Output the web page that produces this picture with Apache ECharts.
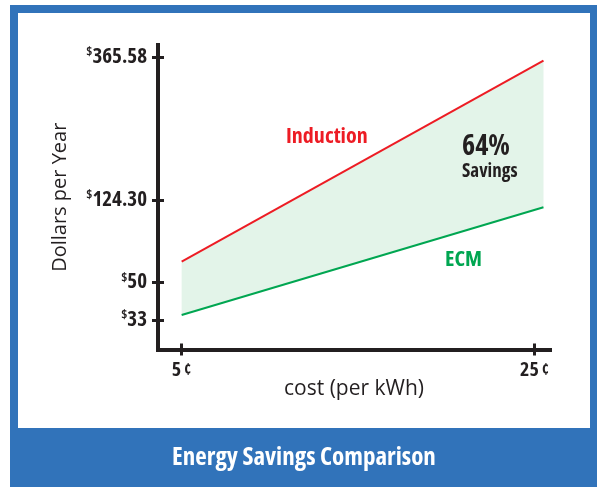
<!DOCTYPE html>
<html>
<head>
<meta charset="utf-8">
<script src="https://cdn.jsdelivr.net/npm/echarts@6/dist/echarts.min.js"></script>
<style>
html,body{margin:0;padding:0;background:#fff;}
#chart{width:597px;height:487px;}
</style>
</head>
<body>
<div id="chart"></div>
<script>
// ---- data ----
const costCents = [5, 25.5];
const inductionDollars = [68.7, 359.3];
const ecmDollars = [35.3, 117.7];
const xTickCents = [5, 25];
const yTickLabels = ['$33', '$50', '$124.30', '$365.58'];
const seriesNames = ['Induction', 'ECM'];
const savingsText = ['64%', 'Savings'];
const chartTitle = 'Energy Savings Comparison';
const xAxisTitle = 'cost (per kWh)';
const yAxisTitle = 'Dollars per Year';

// ---- the original's y axis is schematic (non-linear): piecewise scale stops ----
const yScaleDollars = [0, 33, 50, 124.30, 365.58];
const yScaleUnits = [0, 29.5, 67, 149.5, 292.5];
const yAxisMaxUnits = 304.5;

function toAxis(v) {
  const d = yScaleDollars, u = yScaleUnits;
  let i = 0;
  while (i < d.length - 2 && v > d[i + 1]) i++;
  return u[i] + (v - d[i]) * (u[i + 1] - u[i]) / (d[i + 1] - d[i]);
}

const yTickDollars = yTickLabels.map(s => parseFloat(s.replace('$', '')));
const yTickUnits = yTickDollars.map(toAxis);

const FAMILY = "'Open Sans', 'DejaVu Sans Condensed', sans-serif";
const STRETCH = 'condensed';
const INK = '#231f20';
const RED = '#ed1c24';
const GREEN = '#00a651';
const FILL = '#e3f4e9';
const BLUE = '#3173ba';

const indPts = costCents.map((c, i) => [c, toAxis(inductionDollars[i])]);
const ecmPts = costCents.map((c, i) => [c, toAxis(ecmDollars[i])]);
const bandRows = costCents.map((c, i) => [c, toAxis(ecmDollars[i]), toAxis(inductionDollars[i])]);

const chart = echarts.init(document.getElementById('chart'), null, {renderer: 'canvas'});

const yLabelFmt = function (val) {
  let best = 0;
  yTickUnits.forEach((u, i) => { if (Math.abs(u - val) < Math.abs(yTickUnits[best] - val)) best = i; });
  return '{s|$}{v|' + yTickLabels[best].replace('$', '') + '}';
};

const tickLine = {color: INK, width: 3};
const txt = (size, weight, stretch) => ({fontFamily: FAMILY, fontStyle: stretch || STRETCH, fontWeight: weight, fontSize: size, color: INK});
const font = (size, weight) => STRETCH + ' ' + weight + ' ' + size + 'px ' + FAMILY;

chart.setOption({
  backgroundColor: '#fff',
  animation: false,
  graphic: [
    {type: 'rect', z: -2, silent: true, shape: {x: 10, y: 5, width: 587, height: 482}, style: {fill: BLUE}},
    {type: 'rect', z: -1, silent: true, shape: {x: 18, y: 13, width: 572, height: 415}, style: {fill: '#fff'}},
    {type: 'text', z: 10, style: {text: chartTitle, x: 304, y: 458, fill: '#fff', font: font(25, 'bold'), align: 'center', verticalAlign: 'middle'}},
    {type: 'text', z: 10, style: {text: seriesNames[0], x: 286, y: 137, fill: RED, font: font(22, 'bold'), align: 'left', verticalAlign: 'middle'}},
    {type: 'text', z: 10, style: {text: seriesNames[1], x: 445, y: 260, fill: GREEN, font: font(22, 'bold'), align: 'left', verticalAlign: 'middle'}},
    {type: 'text', z: 10, style: {text: savingsText[0], x: 462, y: 147, fill: INK, font: font(28, 'bold'), align: 'left', verticalAlign: 'middle'}},
    {type: 'text', z: 10, style: {text: savingsText[1], x: 462, y: 172, fill: INK, font: font(19, 'bold'), align: 'left', verticalAlign: 'middle'}}
  ],
  grid: {left: 158, right: 47, top: 45, bottom: 137.5, containLabel: false},
  xAxis: [{
    type: 'value', min: 3.66, max: 25.87,
    name: xAxisTitle, nameLocation: 'middle', nameGap: 29, nameMoveOverlap: false,
    nameTextStyle: txt(21, 'normal', 'normal'),
    axisLine: {show: true, lineStyle: {color: INK, width: 4, cap: 'square'}},
    axisTick: {show: true, customValues: xTickCents, length: 6, lineStyle: tickLine},
    axisLabel: {
      show: true, customValues: xTickCents, margin: 11,
      formatter: v => '{v|' + v + '}{c|¢}',
      rich: {
        v: txt(20, 'bold'),
        c: Object.assign(txt(16, 'bold'), {padding: [0, 0, 0, 3]})
      }
    },
    splitLine: {show: false}
  }, {
    type: 'value', min: 3.66, max: 25.87, position: 'bottom',
    axisLine: {show: false},
    axisTick: {show: true, inside: true, customValues: xTickCents, length: 6, lineStyle: tickLine},
    axisLabel: {show: false}, splitLine: {show: false}
  }],
  yAxis: [{
    type: 'value', min: 0, max: yAxisMaxUnits,
    name: yAxisTitle, nameLocation: 'middle', nameGap: 88, nameRotate: 90, nameMoveOverlap: false,
    nameTextStyle: txt(20, 'normal', 'normal'),
    axisLine: {show: true, lineStyle: {color: INK, width: 4, cap: 'square'}},
    axisTick: {show: true, customValues: yTickUnits, length: 6, lineStyle: tickLine},
    axisLabel: {
      show: true, customValues: yTickUnits, margin: 11,
      formatter: yLabelFmt,
      rich: {
        s: Object.assign(txt(13, 'bold'), {verticalAlign: 'top', lineHeight: 22}),
        v: Object.assign(txt(21, 'bold'), {lineHeight: 22})
      }
    },
    splitLine: {show: false}
  }, {
    type: 'value', min: 0, max: yAxisMaxUnits, position: 'left',
    axisLine: {show: false},
    axisTick: {show: true, inside: true, customValues: yTickUnits, length: 6, lineStyle: tickLine},
    axisLabel: {show: false}, splitLine: {show: false}
  }],
  series: [
    {
      name: 'savings band', type: 'custom', silent: true, z: 1,
      data: bandRows,
      renderItem: function (params, api) {
        if (params.dataIndex !== 0) return null;
        const lo = [], hi = [];
        for (let i = 0; i < bandRows.length; i++) {
          lo.push(api.coord([bandRows[i][0], bandRows[i][1]]));
          hi.unshift(api.coord([bandRows[i][0], bandRows[i][2]]));
        }
        return {type: 'polygon', shape: {points: lo.concat(hi)}, style: {fill: FILL}};
      },
      encode: {x: 0, y: [1, 2]}
    },
    {name: seriesNames[0], type: 'line', data: indPts, symbol: 'none', lineStyle: {color: RED, width: 2}, z: 3},
    {name: seriesNames[1], type: 'line', data: ecmPts, symbol: 'none', lineStyle: {color: GREEN, width: 2}, z: 3}
  ]
});
</script>
</body>
</html>
